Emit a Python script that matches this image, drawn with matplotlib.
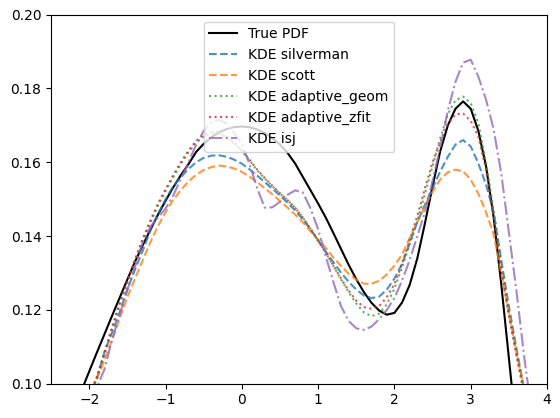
import numpy as np
import matplotlib
matplotlib.use("Agg")
from matplotlib import pyplot as plt

# evaluation grid, -2.2 ... 3.8 in steps of 0.1
x = np.linspace(-2.2, 3.8, 61)

true_pdf = [
    0.0935, 0.0983, 0.1034, 0.1085, 0.1135, 0.1185, 0.1234, 0.1283, 0.1331, 0.1375,
    0.1417, 0.1458, 0.1496, 0.1532, 0.1565, 0.1595, 0.1628, 0.1650, 0.1668, 0.1681,
    0.1690, 0.1695, 0.1697, 0.1695, 0.1689, 0.1679, 0.1665, 0.1648, 0.1625, 0.1596,
    0.1560, 0.1524, 0.1488, 0.1450, 0.1408, 0.1365, 0.1322, 0.1283, 0.1248, 0.1219,
    0.1198, 0.1187, 0.1192, 0.1220, 0.1268, 0.1340, 0.1435, 0.1535, 0.1630, 0.1700,
    0.1745, 0.1765, 0.1745, 0.1685, 0.1590, 0.1452, 0.1270, 0.1070, 0.0870, 0.0700,
    0.0550,
]
kde_silverman = [
    0.0880, 0.0925, 0.0968, 0.1015, 0.1087, 0.1140, 0.1195, 0.1257, 0.1310, 0.1360,
    0.1415, 0.1460, 0.1500, 0.1535, 0.1560, 0.1582, 0.1600, 0.1612, 0.1618, 0.1619,
    0.1615, 0.1607, 0.1596, 0.1581, 0.1564, 0.1546, 0.1528, 0.1510, 0.1490, 0.1469,
    0.1445, 0.1418, 0.1388, 0.1358, 0.1329, 0.1301, 0.1276, 0.1255, 0.1239, 0.1232,
    0.1236, 0.1255, 0.1285, 0.1325, 0.1380, 0.1438, 0.1485, 0.1530, 0.1575, 0.1615,
    0.1648, 0.1660, 0.1643, 0.1597, 0.1540, 0.1465, 0.1335, 0.1210, 0.1095, 0.0985,
    0.0880,
]
kde_scott = [
    0.0885, 0.0928, 0.0970, 0.1013, 0.1065, 0.1120, 0.1178, 0.1235, 0.1285, 0.1335,
    0.1383, 0.1427, 0.1465, 0.1498, 0.1525, 0.1548, 0.1566, 0.1579, 0.1587, 0.1591,
    0.1589, 0.1583, 0.1574, 0.1561, 0.1546, 0.1530, 0.1513, 0.1495, 0.1477, 0.1458,
    0.1437, 0.1413, 0.1390, 0.1368, 0.1342, 0.1319, 0.1298, 0.1282, 0.1271, 0.1271,
    0.1279, 0.1296, 0.1320, 0.1350, 0.1395, 0.1438, 0.1480, 0.1520, 0.1553, 0.1573,
    0.1580, 0.1576, 0.1553, 0.1515, 0.1465, 0.1405, 0.1300, 0.1190, 0.1085, 0.0985,
    0.0890,
]
kde_adaptive_geom = [
    0.0870, 0.0915, 0.0963, 0.1015, 0.1080, 0.1150, 0.1215, 0.1275, 0.1333, 0.1388,
    0.1437, 0.1483, 0.1522, 0.1560, 0.1595, 0.1627, 0.1653, 0.1670, 0.1678, 0.1677,
    0.1667, 0.1650, 0.1630, 0.1605, 0.1578, 0.1556, 0.1535, 0.1515, 0.1497, 0.1476,
    0.1450, 0.1420, 0.1387, 0.1355, 0.1319, 0.1283, 0.1248, 0.1217, 0.1193, 0.1183,
    0.1190, 0.1215, 0.1258, 0.1315, 0.1380, 0.1440, 0.1515, 0.1590, 0.1665, 0.1730,
    0.1768, 0.1778, 0.1760, 0.1706, 0.1600, 0.1470, 0.1325, 0.1195, 0.1085, 0.0980,
    0.0870,
]
kde_adaptive_zfit = [
    0.0875, 0.0920, 0.0968, 0.1020, 0.1085, 0.1155, 0.1220, 0.1280, 0.1338, 0.1393,
    0.1442, 0.1488, 0.1527, 0.1565, 0.1600, 0.1632, 0.1658, 0.1675, 0.1682, 0.1680,
    0.1670, 0.1653, 0.1632, 0.1607, 0.1580, 0.1557, 0.1536, 0.1516, 0.1497, 0.1476,
    0.1450, 0.1420, 0.1387, 0.1355, 0.1320, 0.1285, 0.1252, 0.1225, 0.1208, 0.1203,
    0.1210, 0.1235, 0.1270, 0.1325, 0.1390, 0.1455, 0.1530, 0.1600, 0.1655, 0.1705,
    0.1730, 0.1732, 0.1712, 0.1670, 0.1580, 0.1450, 0.1310, 0.1185, 0.1075, 0.0970,
    0.0860,
]
kde_isj = [
    0.0870, 0.0915, 0.0950, 0.0990, 0.1040, 0.1120, 0.1188, 0.1255, 0.1318, 0.1383,
    0.1425, 0.1450, 0.1475, 0.1510, 0.1555, 0.1600, 0.1648, 0.1685, 0.1708, 0.1715,
    0.1705, 0.1680, 0.1650, 0.1595, 0.1530, 0.1477, 0.1478, 0.1493, 0.1512, 0.1524,
    0.1518, 0.1475, 0.1418, 0.1345, 0.1275, 0.1210, 0.1170, 0.1150, 0.1146, 0.1155,
    0.1175, 0.1200, 0.1232, 0.1280, 0.1335, 0.1400, 0.1465, 0.1550, 0.1640, 0.1740,
    0.1818, 0.1870, 0.1878, 0.1832, 0.1770, 0.1690, 0.1570, 0.1410, 0.1250, 0.1075,
    0.0920,
]

fig = plt.figure(figsize=(5.6, 4.18), dpi=100)
ax = fig.add_axes([0.0914, 0.082, 0.8854, 0.883])

ax.plot(x, true_pdf, "k-", label="True PDF")
ax.plot(x, kde_silverman, "--", color="C0", alpha=0.8, label="KDE silverman")
ax.plot(x, kde_scott, "--", color="C1", alpha=0.8, label="KDE scott")
ax.plot(x, kde_adaptive_geom, ":", color="C2", alpha=0.8, label="KDE adaptive_geom")
ax.plot(x, kde_adaptive_zfit, ":", color="C3", alpha=0.8, label="KDE adaptive_zfit")
ax.plot(x, kde_isj, "-.", color="C4", alpha=0.8, label="KDE isj")

ax.set_xlim(-2.5, 4)
ax.set_ylim(0.1, 0.2)
ax.legend(loc="upper center")

fig.savefig("out.png")
